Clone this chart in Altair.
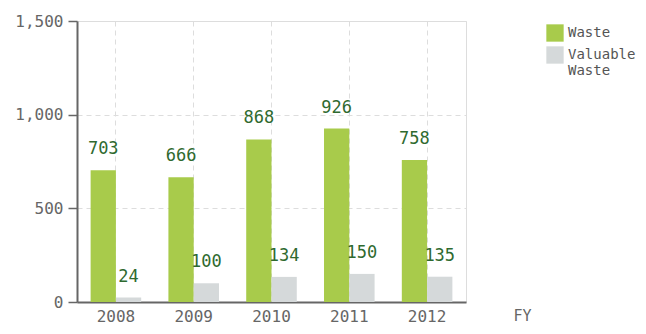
import altair as alt
import pandas as pd

years = ["2008", "2009", "2010", "2011", "2012"]
waste = [703, 666, 868, 926, 758]
valuable_waste = [24, 100, 134, 150, 135]
types = ["Waste", "Valuable Waste"]
colors = ["#a8cb4b", "#d5d9da"]
y_ticks = [0, 500, 1000, 1500]

rows = []
for i, yr in enumerate(years):
    rows.append({"year": yr, "type": types[0], "value": waste[i]})
    rows.append({"year": yr, "type": types[1], "value": valuable_waste[i]})
df = pd.DataFrame(rows)

FONT = "DejaVu Sans Mono"

base = alt.Chart(df).encode(
    x=alt.X(
        "year:N",
        sort=years,
        scale=alt.Scale(paddingInner=0.35, paddingOuter=0.175),
        axis=alt.Axis(
            title="FY",
            labelAngle=0,
            ticks=False,
            grid=True,
            bandPosition=0.5,
            gridColor="#dddddd",
            gridDash=[5, 4],
            labelFont=FONT,
            labelFontSize=16,
            labelColor="#666666",
            labelPadding=6,
            domainColor="#666666",
            domainWidth=2,
            titleFont=FONT,
            titleFontSize=15,
            titleFontWeight="normal",
            titleColor="#666666",
            titleX=445,
            titleY=13,
            titleAlign="center",
            titleBaseline="middle",
        ),
    ),
    xOffset=alt.XOffset(
        "type:N", sort=types, scale=alt.Scale(paddingInner=0, paddingOuter=0)
    ),
    y=alt.Y(
        "value:Q",
        scale=alt.Scale(domain=[0, 1500], nice=False),
        axis=alt.Axis(
            title=None,
            values=y_ticks,
            format=",.0f",
            grid=True,
            gridColor="#dddddd",
            gridDash=[5, 4],
            tickSize=9,
            tickColor="#666666",
            tickWidth=1.5,
            labelPadding=5,
            labelFont=FONT,
            labelFontSize=16,
            labelColor="#666666",
            domainColor="#666666",
            domainWidth=2,
        ),
    ),
)

bars = base.mark_bar().encode(
    color=alt.Color(
        "type:N",
        sort=types,
        scale=alt.Scale(domain=types, range=colors),
        legend=alt.Legend(
            title=None,
            orient="none",
            legendX=469,
            legendY=3,
            symbolType="square",
            symbolSize=300,
            symbolStrokeWidth=0,
            labelFont=FONT,
            labelFontSize=14,
            labelColor="#555555",
            labelOffset=4,
            rowPadding=4,
            labelExpr="datum.label == 'Valuable Waste' ? ['Valuable', 'Waste'] : datum.label",
        ),
    )
)

labels = base.mark_text(
    baseline="bottom",
    dy=-12,
    font=FONT,
    fontSize=17,
    color="#2f6a2f",
).encode(text=alt.Text("value:Q"))

chart = (
    alt.layer(bars, labels)
    .properties(
        width=389,
        height=281,
        autosize=alt.AutoSizeParams(type="none"),
        padding={"left": 69, "top": 13, "right": 172, "bottom": 24},
    )
    .configure_view(stroke="#dddddd")
)

chart.save("out.html", embed_options={"renderer": "svg", "actions": False})
